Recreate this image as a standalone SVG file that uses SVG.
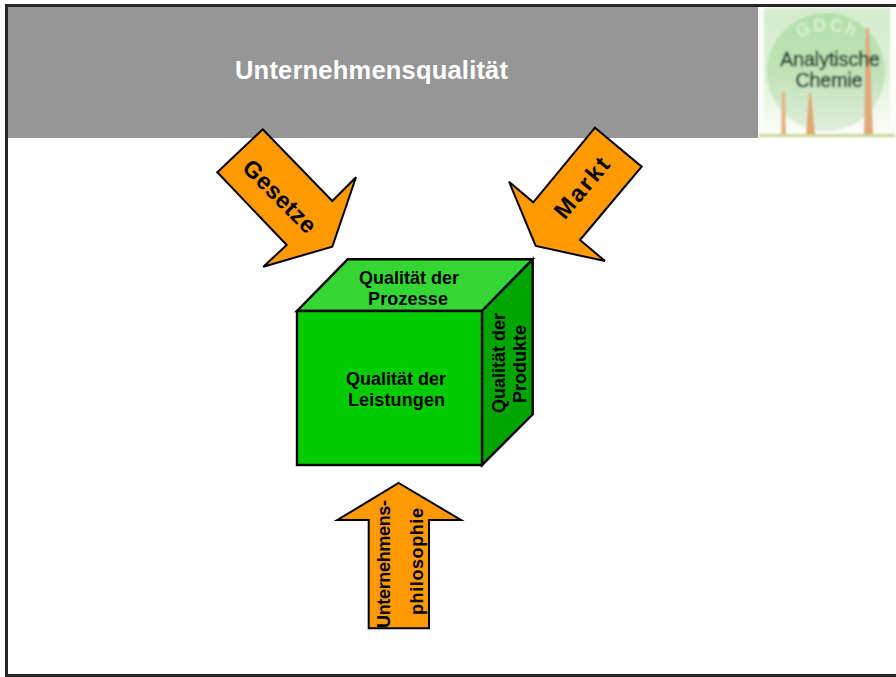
<svg xmlns="http://www.w3.org/2000/svg" width="896" height="677" viewBox="0 0 896 677">
<style>
text{font-family:"Liberation Sans",Arial,sans-serif;font-weight:bold;fill:#000;text-anchor:middle}
.arrow{fill:#ff9900;stroke:#000;stroke-width:2;stroke-linejoin:miter}
.edge{stroke:#000;stroke-width:2.400;stroke-linejoin:miter}
.lbl{font-size:18px}
.big{font-size:23.500px}
.logo{stroke-width:0.6}
.ink{fill:#1f3f2c;stroke:#1f3f2c;font-weight:normal}
</style>
<defs>
<linearGradient id="disc" x1="0" y1="0" x2="0" y2="1"><stop offset="0" stop-color="#b4e0ad"/><stop offset="0.5" stop-color="#bfe2b6"/><stop offset="1" stop-color="#e0eedb"/></linearGradient>
<linearGradient id="back" x1="0" y1="0" x2="0" y2="1"><stop offset="0" stop-color="#d4ebcd"/><stop offset="0.5" stop-color="#dcefd6"/><stop offset="1" stop-color="#fbfdf8"/></linearGradient>
<filter id="soft" x="-10%" y="-10%" width="120%" height="120%"><feGaussianBlur stdDeviation="0.8"/></filter>
<path id="arc" d="M797 39 Q826 22 858 39"/>
</defs>
<rect width="896" height="677" fill="#fff"/>
<g id="header">
<rect x="6" y="5" width="890" height="133" fill="#969696"/>
<text x="371.500" y="79" font-size="25.500" textLength="273" style="fill:#fff">Unternehmensqualität</text>
</g>
<g id="logo">
<rect x="758" y="7" width="138" height="131" fill="#fbfdf8"/>
<g filter="url(#soft)">
<rect x="764" y="8" width="126" height="124" fill="url(#back)"/>
<circle cx="826" cy="72" r="59" fill="url(#disc)"/>
<rect x="759" y="134" width="136" height="3" fill="#c9d99a"/>
<path d="M781 134 L782 92 L785 92 L786 134Z" fill="#e3b27c"/>
<path d="M806 134 L809 93 L811 93 L815 134Z" fill="#e0a872"/>
<path d="M864 134 L866 28 L869 28 L873 134Z" fill="#dfa878"/>
<text font-size="17" letter-spacing="3" style="fill:#e4f4dc;font-weight:normal"><textPath href="#arc" startOffset="50%">GDCh</textPath></text>
<text class="logo ink" x="830" y="66" font-size="19.500">Analytische</text>
<text class="logo ink" x="829" y="87" font-size="19.500">Chemie</text>
</g>
</g>
<g id="frame" fill="none" stroke="#262626" stroke-width="3">
<path d="M6.500 677V5.500H896"/>
<path d="M6 675.500H896"/>
</g>
<g id="connectors">
<g id="arrow-gesetze">
<polygon class="arrow" points="262.700,129.300 332.300,201 356,177.300 332.300,246.700 263.300,266.700 286.700,245 217.300,172.300"/>
<text class="big" textLength="93" transform="translate(274,202) rotate(45)">Gesetze</text>
</g>
<g id="arrow-markt">
<polygon class="arrow" points="595,127.700 641.700,166.700 580,240 605,261 535.700,246 509,181.700 533.300,202.300"/>
<text class="big" textLength="72" transform="translate(588,193) rotate(-50)">Markt</text>
</g>
<g id="arrow-philosophie">
<polygon class="arrow" points="398.700,483 461,520 429,520 429,628.300 368.700,628.300 368.700,520 337.300,520"/>
<text class="lbl" textLength="128" transform="translate(390,564) rotate(-90)">Unternehmens-</text>
<text class="lbl" textLength="107" transform="translate(423,561.500) rotate(-90)">philosophie</text>
</g>
</g>
<g id="node-cube">
<polygon class="edge" points="297,311 347.700,259.300 532.700,259.300 482,311" fill="#33d633"/>
<polygon class="edge" points="482,311 532.700,259.300 532.700,414.300 482,465" fill="#00a600"/>
<rect class="edge" x="297" y="311" width="185" height="154" fill="#00cc00"/>
<text class="lbl" x="409" y="284" textLength="100">Qualität der</text>
<text class="lbl" x="408" y="305" textLength="80">Prozesse</text>
<text class="lbl" x="396" y="385" textLength="100">Qualität der</text>
<text class="lbl" x="396.500" y="406" textLength="97">Leistungen</text>
<text class="lbl" textLength="100" transform="translate(505,363) rotate(-90)">Qualität der</text>
<text class="lbl" textLength="78" transform="translate(526,364) rotate(-90)">Produkte</text>
</g>
</svg>
